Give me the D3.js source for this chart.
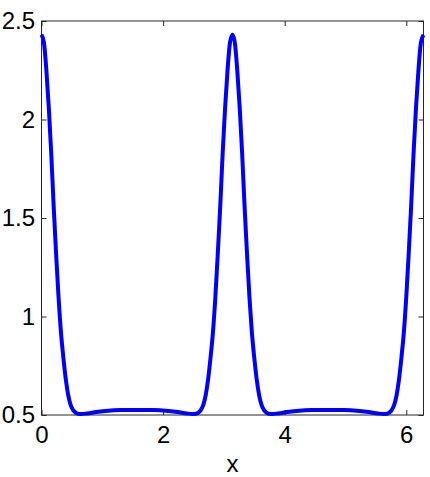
<!DOCTYPE html>
<html>
<head>
    <title>Curve</title>
    <script type="text/javascript" src="https://d3js.org/d3.v7.min.js"></script>
    <style>
        body { margin: 0; background: #fff; }
        text { font-family: "Liberation Sans", Arial, sans-serif; }
    </style>
</head>
<body>
    <svg id="chart" width="430" height="477"></svg>
    <script>
        // values
        var xValues = [
            0, 0.04, 0.08, 0.12, 0.16, 0.20, 0.24, 0.28, 0.32, 0.36, 0.40, 0.44, 0.48, 0.52, 0.56, 0.60, 0.65, 0.75, 0.90, 1.10, 1.30, 1.57,
            1.84, 2.04, 2.24, 2.39, 2.49, 2.54, 2.58, 2.62, 2.66, 2.70, 2.74, 2.78, 2.82, 2.86, 2.90, 2.94, 2.98, 3.02, 3.06, 3.10, 3.1416,
            3.18, 3.22, 3.26, 3.30, 3.34, 3.38, 3.42, 3.46, 3.50, 3.54, 3.58, 3.62, 3.66, 3.70, 3.74, 3.79, 3.89, 4.04, 4.24, 4.44, 4.71,
            4.98, 5.18, 5.38, 5.53, 5.63, 5.68, 5.72, 5.76, 5.80, 5.84, 5.88, 5.92, 5.96, 6.00, 6.04, 6.08, 6.12, 6.16, 6.20, 6.24, 6.2832
        ];
        var yValues = [
            2.43, 2.39, 2.25, 2.06, 1.83, 1.56, 1.32, 1.10, 0.92, 0.79, 0.68, 0.60, 0.55, 0.525, 0.512, 0.506, 0.505, 0.508, 0.515, 0.522, 0.525, 0.526,
            0.525, 0.522, 0.515, 0.508, 0.505, 0.506, 0.512, 0.525, 0.55, 0.60, 0.68, 0.79, 0.92, 1.10, 1.32, 1.56, 1.83, 2.06, 2.25, 2.39, 2.43,
            2.39, 2.25, 2.06, 1.83, 1.56, 1.32, 1.10, 0.92, 0.79, 0.68, 0.60, 0.55, 0.525, 0.512, 0.506, 0.505, 0.508, 0.515, 0.522, 0.525, 0.526,
            0.525, 0.522, 0.515, 0.508, 0.505, 0.506, 0.512, 0.525, 0.55, 0.60, 0.68, 0.79, 0.92, 1.10, 1.32, 1.56, 1.83, 2.06, 2.25, 2.39, 2.43
        ];
        var xTicks = [0, 2, 4, 6];
        var yTicks = [0.5, 1, 1.5, 2, 2.5];
        var xLabel = "x";

        var margin = { top: 21, right: 6.5, bottom: 62, left: 41.5 },
            width = 430 - margin.left - margin.right,
            height = 477 - margin.top - margin.bottom;

        var svg = d3.select("#chart")
            .append("g")
            .attr("transform", "translate(" + margin.left + "," + margin.top + ")");

        var xScale = d3.scaleLinear().domain([0, 2 * Math.PI]).range([0, width]);
        var yScale = d3.scaleLinear().domain([0.5, 2.5]).range([height, 0]);

        var fmt = d3.format("~g");

        // matlab style box with inward ticks
        function styleAxis(g) {
            g.select(".domain").remove();
            g.selectAll(".tick line").attr("stroke", "#262626");
            g.selectAll(".tick text").attr("fill", "#000").style("font-size", "24px");
        }

        svg.append("g")
            .attr("transform", "translate(0," + height + ")")
            .call(d3.axisBottom(xScale).tickValues(xTicks).tickFormat(fmt).tickSizeInner(-5).tickSizeOuter(0).tickPadding(11))
            .call(styleAxis);
        svg.append("g")
            .call(d3.axisTop(xScale).tickValues(xTicks).tickSizeInner(-5).tickSizeOuter(0).tickFormat(""))
            .call(styleAxis);
        svg.append("g")
            .call(d3.axisLeft(yScale).tickValues(yTicks).tickFormat(fmt).tickSizeInner(-5).tickSizeOuter(0).tickPadding(6.5))
            .call(styleAxis);
        svg.append("g")
            .attr("transform", "translate(" + width + ",0)")
            .call(d3.axisRight(yScale).tickValues(yTicks).tickSizeInner(-5).tickSizeOuter(0).tickFormat(""))
            .call(styleAxis);

        svg.append("rect")
            .attr("width", width)
            .attr("height", height)
            .attr("fill", "none")
            .attr("stroke", "#262626")
            .attr("stroke-width", 1);

        var points = xValues.map(function (x, i) { return { x: x, y: yValues[i] }; });

        svg.append("path")
            .datum(points)
            .attr("fill", "none")
            .attr("stroke", "#0000ff")
            .attr("stroke-width", 4)
            .attr("stroke-linejoin", "round")
            .attr("d", d3.line()
                .x(d => xScale(d.x))
                .y(d => yScale(d.y))
                .curve(d3.curveMonotoneX));

        svg.append("text")
            .attr("x", width / 2)
            .attr("y", height + 57)
            .attr("text-anchor", "middle")
            .style("font-size", "24px")
            .text(xLabel);
    </script>
</body>
</html>
